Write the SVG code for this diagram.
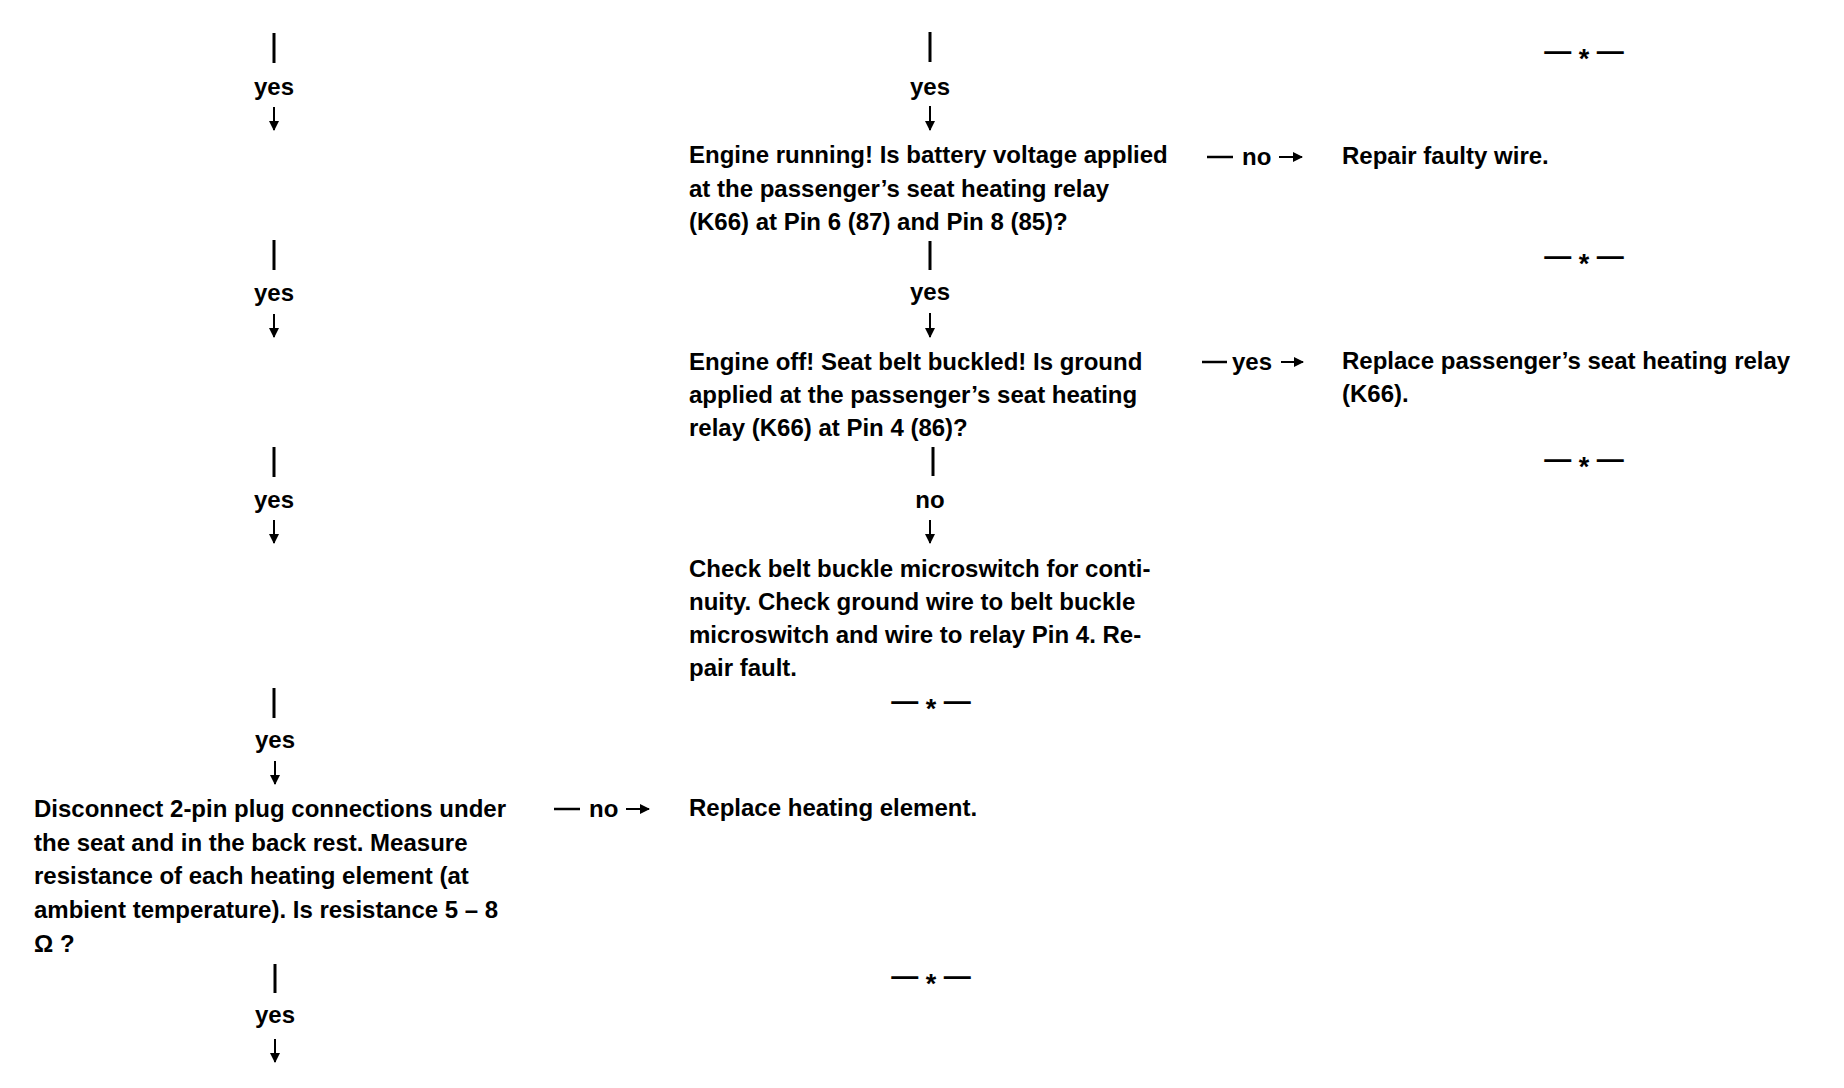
<svg xmlns="http://www.w3.org/2000/svg" width="1844" height="1088" viewBox="0 0 1844 1088">
<style>
.t{font-family:"Liberation Sans",Arial,Helvetica,sans-serif;font-weight:bold;font-size:24px;fill:#000}
.m{text-anchor:middle}
.s{font-family:"Liberation Sans",Arial,Helvetica,sans-serif;font-weight:bold;font-size:27px;fill:#000;text-anchor:middle}
.bar{stroke:#000;stroke-width:3;fill:none}
.dash{stroke:#000;stroke-width:2.5;fill:none}
.arr{stroke:#000;stroke-width:2;fill:none;marker-end:url(#ah)}
</style>
<defs>
<marker id="ah" markerWidth="10" markerHeight="10" refX="9" refY="5" orient="auto" markerUnits="userSpaceOnUse">
<path d="M0,0 L10,5 L0,10 z" fill="#000"/>
</marker>
</defs>
<rect width="1844" height="1088" fill="#fff"/>

<g id="connectors">
<!-- left column -->
<line class="bar" x1="274" y1="33" x2="274" y2="63"/>
<text class="t m" x="274" y="95">yes</text>
<line class="arr" x1="274" y1="107" x2="274" y2="130"/>

<line class="bar" x1="274" y1="240" x2="274" y2="270"/>
<text class="t m" x="274" y="301">yes</text>
<line class="arr" x1="274" y1="314" x2="274" y2="337"/>

<line class="bar" x1="274" y1="447" x2="274" y2="477"/>
<text class="t m" x="274" y="508">yes</text>
<line class="arr" x1="274" y1="520" x2="274" y2="543"/>

<line class="bar" x1="274" y1="688" x2="274" y2="718"/>
<text class="t m" x="275" y="748">yes</text>
<line class="arr" x1="275" y1="761" x2="275" y2="784"/>

<line class="bar" x1="275" y1="964" x2="275" y2="993"/>
<text class="t m" x="275" y="1023">yes</text>
<line class="arr" x1="275" y1="1039" x2="275" y2="1062"/>

<!-- middle column -->
<line class="bar" x1="930" y1="32" x2="930" y2="62"/>
<text class="t m" x="930" y="95">yes</text>
<line class="arr" x1="930" y1="106" x2="930" y2="130"/>

<line class="bar" x1="930" y1="241" x2="930" y2="270"/>
<text class="t m" x="930" y="300">yes</text>
<line class="arr" x1="930" y1="313" x2="930" y2="337"/>

<line class="bar" x1="933" y1="447" x2="933" y2="476"/>
<text class="t m" x="930" y="508">no</text>
<line class="arr" x1="930" y1="520" x2="930" y2="543"/>

<!-- horizontal -->
<line class="dash" x1="1207" y1="157" x2="1233" y2="157"/>
<text class="t" x="1242" y="165">no</text>
<line class="arr" x1="1279" y1="157" x2="1302" y2="157"/>

<line class="dash" x1="1202" y1="362" x2="1227" y2="362"/>
<text class="t" x="1232" y="370">yes</text>
<line class="arr" x1="1281" y1="362" x2="1303" y2="362"/>

<line class="dash" x1="554" y1="809" x2="580" y2="809"/>
<text class="t" x="589" y="817">no</text>
<line class="arr" x1="626" y1="809" x2="649" y2="809"/>
</g>

<g id="q-battery">
<text class="t" x="689" y="163">Engine running! Is battery voltage applied</text>
<text class="t" x="689" y="196.5">at the passenger’s seat heating relay</text>
<text class="t" x="689" y="230">(K66) at Pin 6 (87) and Pin 8 (85)?</text>
</g>

<g id="q-ground">
<text class="t" x="689" y="370">Engine off! Seat belt buckled! Is ground</text>
<text class="t" x="689" y="403">applied at the passenger’s seat heating</text>
<text class="t" x="689" y="436">relay (K66) at Pin 4 (86)?</text>
</g>

<g id="a-buckle">
<text class="t" x="689" y="577">Check belt buckle microswitch for conti-</text>
<text class="t" x="689" y="610">nuity. Check ground wire to belt buckle</text>
<text class="t" x="689" y="643">microswitch and wire to relay Pin 4. Re-</text>
<text class="t" x="689" y="676">pair fault.</text>
</g>

<g id="q-resistance">
<text class="t" x="34" y="817">Disconnect 2-pin plug connections under</text>
<text class="t" x="34" y="851">the seat and in the back rest. Measure</text>
<text class="t" x="34" y="884">resistance of each heating element (at</text>
<text class="t" x="34" y="918">ambient temperature). Is resistance 5 – 8</text>
<text class="t" x="34" y="952">Ω ?</text>
</g>

<g id="a-wire">
<text class="t" x="1342" y="164">Repair faulty wire.</text>
</g>

<g id="a-relay">
<text class="t" x="1342" y="369">Replace passenger’s seat heating relay</text>
<text class="t" x="1342" y="402">(K66).</text>
</g>

<g id="a-element">
<text class="t" x="689" y="816">Replace heating element.</text>
</g>

<g id="end-1"><text class="s" x="1584" y="60">— <tspan dy="8">*</tspan><tspan dy="-8"> —</tspan></text></g>
<g id="end-2"><text class="s" x="1584" y="265">— <tspan dy="8">*</tspan><tspan dy="-8"> —</tspan></text></g>
<g id="end-3"><text class="s" x="1584" y="468">— <tspan dy="8">*</tspan><tspan dy="-8"> —</tspan></text></g>
<g id="end-4"><text class="s" x="931" y="710">— <tspan dy="8">*</tspan><tspan dy="-8"> —</tspan></text></g>
<g id="end-5"><text class="s" x="931" y="985">— <tspan dy="8">*</tspan><tspan dy="-8"> —</tspan></text></g>
</svg>
